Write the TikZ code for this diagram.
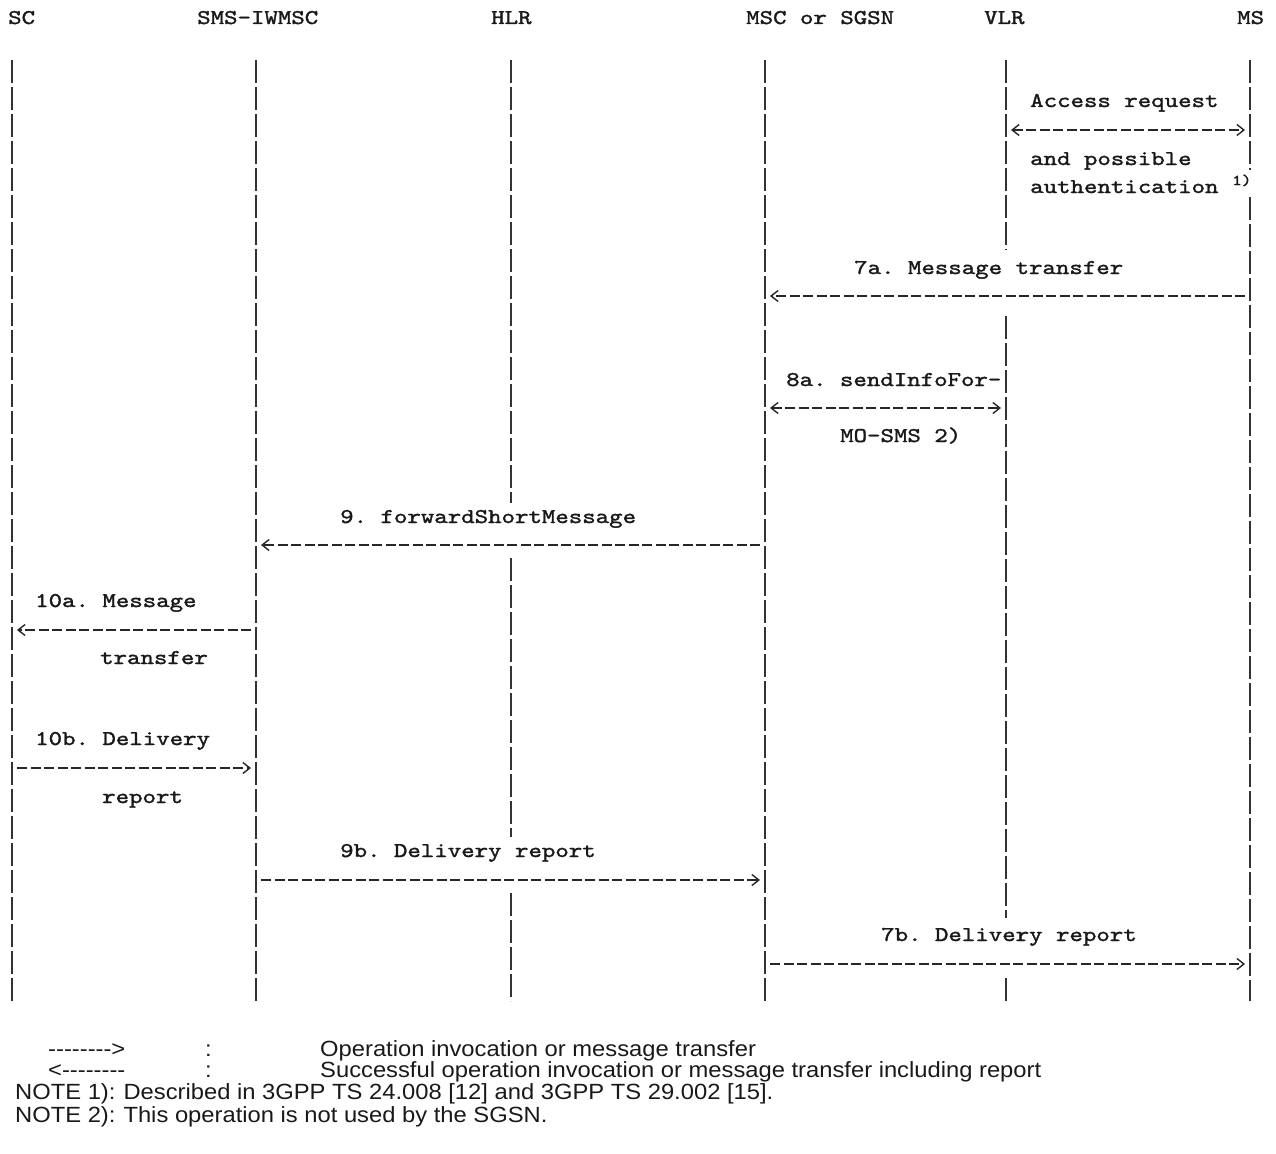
\documentclass[tikz,border=0pt]{standalone}
\usepackage{fontspec}
\setmonofont[FakeStretch=1.22,FakeBold=1.5]{lmmono10-regular.otf}
\newfontfamily\notefont[FakeStretch=1.08]{Liberation Sans}
\usetikzlibrary{arrows.meta}

\begin{document}
\begin{tikzpicture}[x=1pt, y=-1pt,
  every node/.style={inner sep=0pt, anchor=base west, text=black!90},
  txt/.style={font=\fontsize{21}{21}\selectfont\ttfamily},
  sup/.style={font=\fontsize{15}{15}\selectfont\ttfamily},
  note/.style={font=\fontsize{22}{22}\selectfont\notefont, text height=16pt, text depth=4pt},
  life/.style={line width=1.8pt, black!80, dash pattern=on 23pt off 4pt},
  msg/.style={line width=1.5pt, black!85, dash pattern=on 10pt off 3.5pt, shorten <=5pt, shorten >=5pt},
  barb/.tip={Straight Barb[length=7pt,width=11pt,line width=1.4pt]}]

\useasboundingbox (0,0) rectangle (1276,1153);

% entities
\node[txt] (sc)  at (8,24)    {SC};
\node[txt] (iw)  at (197,24)  {SMS-IWMSC};
\node[txt] (hlr) at (491,24)  {HLR};
\node[txt] (msc) at (746,24)  {MSC or SGSN};
\node[txt] (vlr) at (984,24)  {VLR};
\node[txt] (ms)  at (1237,24) {MS};

\coordinate (sct)  at (12,60);   \coordinate (scb)  at (12,1001);
\coordinate (iwt)  at (256,60);  \coordinate (iwb)  at (256,1001);
\coordinate (hlrt) at (511,60);  \coordinate (hlrb) at (511,1001);
\coordinate (msct) at (765,60);  \coordinate (mscb) at (765,1001);
\coordinate (vlrt) at (1006,60); \coordinate (vlrb) at (1006,1001);
\coordinate (mst)  at (1250,60); \coordinate (msb)  at (1250,1001);

% lifelines
\draw[life] (sct) -- (scb);
\draw[life] (iwt) -- (iwb);
\draw[life] (hlrt) -- (511,503) (511,558) -- (511,837) (511,893) -- (hlrb);
\draw[life] (msct) -- (mscb);
\draw[life] (vlrt) -- (1006,250) (1006,316) -- (1006,918) (1006,978) -- (vlrb);
\draw[life] (mst) -- (1250,170) (1250,197) -- (msb);

% message rows
\coordinate (r1)   at (0,130);
\coordinate (r7a)  at (0,296);
\coordinate (r8a)  at (0,408);
\coordinate (r9)   at (0,545);
\coordinate (r10a) at (0,630);
\coordinate (r10b) at (0,768);
\coordinate (r9b)  at (0,880);
\coordinate (r7b)  at (0,964);

\draw[msg, barb-barb] (vlrt |- r1) -- (mst |- r1);
\draw[msg, -barb] (mst |- r7a) -- (msct |- r7a);
\draw[msg, barb-barb] (msct |- r8a) -- (vlrt |- r8a);
\draw[msg, -barb] (msct |- r9) -- (iwt |- r9);
\draw[msg, -barb] (iwt |- r10a) -- (sct |- r10a);
\draw[msg, -barb] (sct |- r10b) -- (iwt |- r10b);
\draw[msg, -barb] (iwt |- r9b) -- (msct |- r9b);
\draw[msg, -barb] (msct |- r7b) -- (mst |- r7b);

% labels
\node[txt] (l1a) at (1030,107) {Access request};
\node[txt] (l1b) at (1030,165) {and possible};
\node[txt] (l1c) at (1030,193) {authentication};
\node[sup] (n1)  at (1232,185) {1)};
\node[txt] (l7a) at (854,274)  {7a. Message transfer};
\node[txt] (l8a) at (786,386)  {8a. sendInfoFor-};
\node[txt] (l8b) at (840,442)  {MO-SMS 2)};
\node[txt] (l9)  at (340,523)  {9. forwardShortMessage};
\node[txt] (l10a) at (35,607)  {10a. Message};
\node[txt] (l10b) at (100,664) {transfer};
\node[txt] (l10c) at (35,745)  {10b. Delivery};
\node[txt] (l10d) at (102,803) {report};
\node[txt] (l9b) at (340,857)  {9b. Delivery report};
\node[txt] (l7b) at (881,941)  {7b. Delivery report};

% legend
\node[note] (k1)  at (48,1056)  {-{}-{}-{}-{}-{}-{}-{}-{}>};
\node[note] (k1c) at (205,1056) {:};
\node[note] (k1t) at (320,1056) {Operation invocation or message transfer};
\node[note] (k2)  at (48,1077)  {<-{}-{}-{}-{}-{}-{}-{}-};
\node[note] (k2c) at (205,1077) {:};
\node[note] (k2t) at (320,1077) {Successful operation invocation or message transfer including report};
\node[note] (nt1) at (15,1099)  {NOTE 1):\hspace{8pt}Described in 3GPP TS 24.008 [12] and 3GPP TS 29.002 [15].};
\node[note] (nt2) at (15,1122)  {NOTE 2):\hspace{8pt}This operation is not used by the SGSN.};

\end{tikzpicture}
\end{document}
